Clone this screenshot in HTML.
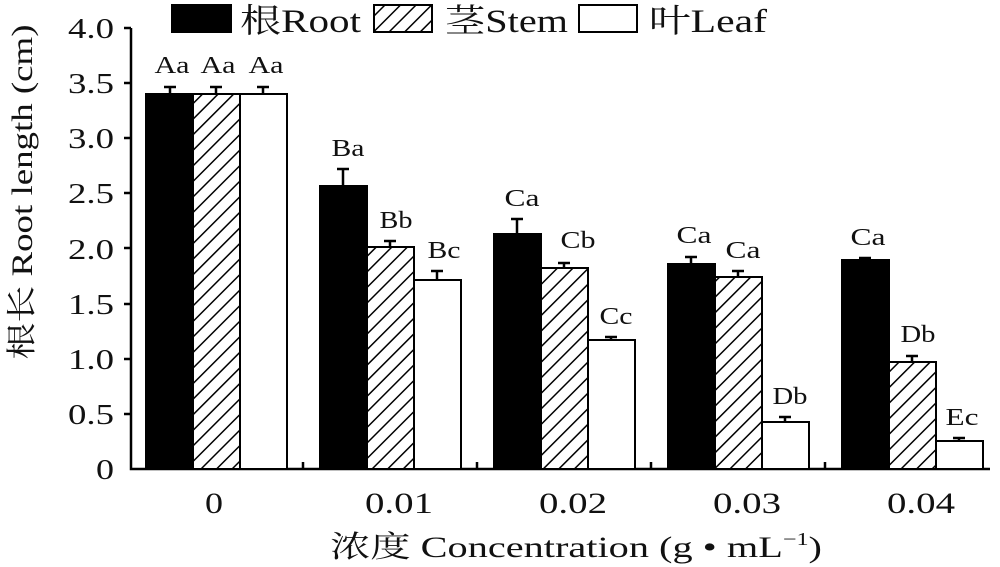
<!DOCTYPE html>
<html><head><meta charset="utf-8"><style>
html,body{margin:0;padding:0;background:#fff;}
svg{display:block;font-family:"Liberation Serif","Noto Serif CJK SC","Noto Sans CJK SC",serif;}
</style></head><body>
<svg width="1000" height="567" viewBox="0 0 1000 567" xmlns="http://www.w3.org/2000/svg">
<defs>
<pattern id="h" patternUnits="userSpaceOnUse" width="11" height="11" patternTransform="rotate(45)">
<rect width="11" height="11" fill="#fff"/>
<line x1="0" y1="0" x2="0" y2="11" stroke="#000" stroke-width="3"/>
</pattern>
</defs>
<g fill="#111" font-size="29" text-anchor="end" lengthAdjust="spacingAndGlyphs">
<text x="114" y="38" textLength="46" lengthAdjust="spacingAndGlyphs">4.0</text>
<text x="114" y="93" textLength="46" lengthAdjust="spacingAndGlyphs">3.5</text>
<text x="114" y="148" textLength="46" lengthAdjust="spacingAndGlyphs">3.0</text>
<text x="114" y="203" textLength="46" lengthAdjust="spacingAndGlyphs">2.5</text>
<text x="114" y="259" textLength="46" lengthAdjust="spacingAndGlyphs">2.0</text>
<text x="114" y="314" textLength="46" lengthAdjust="spacingAndGlyphs">1.5</text>
<text x="114" y="369" textLength="46" lengthAdjust="spacingAndGlyphs">1.0</text>
<text x="114" y="424" textLength="46" lengthAdjust="spacingAndGlyphs">0.5</text>
<text x="114" y="479" textLength="18" lengthAdjust="spacingAndGlyphs">0</text>
</g>
<g stroke="#000" stroke-width="2.5" fill="none">
<path d="M131 28 V469 H990"/>
<path d="M124 28H131M124 83H131M124 138H131M124 193H131M124 248H131M124 304H131M124 359H131M124 414H131"/>
<path d="M303 469V462M477 469V462M651 469V462M825 469V462"/>
</g>
<g stroke="#000" stroke-width="2">
<rect x="146" y="94" width="47" height="375" fill="#000"/>
<rect x="193" y="94" width="47" height="375" fill="url(#h)"/>
<rect x="240" y="94" width="47" height="375" fill="#fff"/>
<rect x="320" y="186" width="47" height="283" fill="#000"/>
<rect x="367" y="247" width="47" height="222" fill="url(#h)"/>
<rect x="414" y="280" width="47" height="189" fill="#fff"/>
<rect x="494" y="234" width="47" height="235" fill="#000"/>
<rect x="541" y="268" width="47" height="201" fill="url(#h)"/>
<rect x="588" y="340" width="47" height="129" fill="#fff"/>
<rect x="668" y="264" width="47" height="205" fill="#000"/>
<rect x="715" y="277" width="47" height="192" fill="url(#h)"/>
<rect x="762" y="422" width="47" height="47" fill="#fff"/>
<rect x="842" y="260" width="47" height="209" fill="#000"/>
<rect x="889" y="362" width="47" height="107" fill="url(#h)"/>
<rect x="936" y="441" width="47" height="28" fill="#fff"/>
</g>
<g stroke="#000" stroke-width="2.5" fill="none">
<path d="M170 94V87M164 87H176 M216 94V87M210 87H222 M263 94V87M257 87H269"/>
<path d="M343 186V169M337 169H349 M390 247V241M384 241H396 M437 280V271M431 271H443"/>
<path d="M517 234V219M511 219H523 M564 268V263M558 263H570 M611 340V337M605 337H617"/>
<path d="M691 264V257M685 257H697 M738 277V271M732 271H744 M785 422V417M779 417H791"/>
<path d="M865 260V258M859 258H871 M912 362V356M906 356H918 M959 441V438M953 438H965"/>
</g>
<g fill="#111" font-size="24" text-anchor="middle">
<text x="172" y="73" textLength="35" lengthAdjust="spacingAndGlyphs">Aa</text>
<text x="218" y="73" textLength="35" lengthAdjust="spacingAndGlyphs">Aa</text>
<text x="266" y="73" textLength="35" lengthAdjust="spacingAndGlyphs">Aa</text>
<text x="348" y="156" textLength="33" lengthAdjust="spacingAndGlyphs">Ba</text>
<text x="396" y="228" textLength="33" lengthAdjust="spacingAndGlyphs">Bb</text>
<text x="444" y="258" textLength="33" lengthAdjust="spacingAndGlyphs">Bc</text>
<text x="522" y="206" textLength="35" lengthAdjust="spacingAndGlyphs">Ca</text>
<text x="578" y="248" textLength="35" lengthAdjust="spacingAndGlyphs">Cb</text>
<text x="616" y="324" textLength="33" lengthAdjust="spacingAndGlyphs">Cc</text>
<text x="694" y="243" textLength="35" lengthAdjust="spacingAndGlyphs">Ca</text>
<text x="743" y="258" textLength="35" lengthAdjust="spacingAndGlyphs">Ca</text>
<text x="790" y="404" textLength="35" lengthAdjust="spacingAndGlyphs">Db</text>
<text x="868" y="245" textLength="35" lengthAdjust="spacingAndGlyphs">Ca</text>
<text x="918" y="342" textLength="35" lengthAdjust="spacingAndGlyphs">Db</text>
<text x="962" y="425" textLength="33" lengthAdjust="spacingAndGlyphs">Ec</text>
</g>
<g fill="#111" font-size="30" text-anchor="middle">
<text x="214" y="513" textLength="18" lengthAdjust="spacingAndGlyphs">0</text>
<text x="399" y="513" textLength="68" lengthAdjust="spacingAndGlyphs">0.01</text>
<text x="573" y="513" textLength="68" lengthAdjust="spacingAndGlyphs">0.02</text>
<text x="747" y="513" textLength="68" lengthAdjust="spacingAndGlyphs">0.03</text>
<text x="921" y="513" textLength="68" lengthAdjust="spacingAndGlyphs">0.04</text>
<text x="576" y="557" textLength="492" lengthAdjust="spacingAndGlyphs">浓度 Concentration (g • mL<tspan font-size="18" dy="-12">−1</tspan><tspan dy="12">)</tspan></text>
<text transform="translate(32,192) rotate(-90)" textLength="335" lengthAdjust="spacingAndGlyphs">根长 Root length (cm)</text>
</g>
<g stroke="#000" stroke-width="2">
<rect x="172" y="5" width="59" height="27" fill="#000"/>
<rect x="374" y="5" width="58" height="27" fill="url(#h)"/>
<rect x="579" y="5" width="58" height="27" fill="#fff"/>
</g>
<g fill="#111" font-size="33">
<text x="240" y="32" textLength="121" lengthAdjust="spacingAndGlyphs">根Root</text>
<text x="445" y="32" textLength="123" lengthAdjust="spacingAndGlyphs">茎Stem</text>
<text x="649" y="32" textLength="118" lengthAdjust="spacingAndGlyphs">叶Leaf</text>
</g>
</svg>
</body></html>
